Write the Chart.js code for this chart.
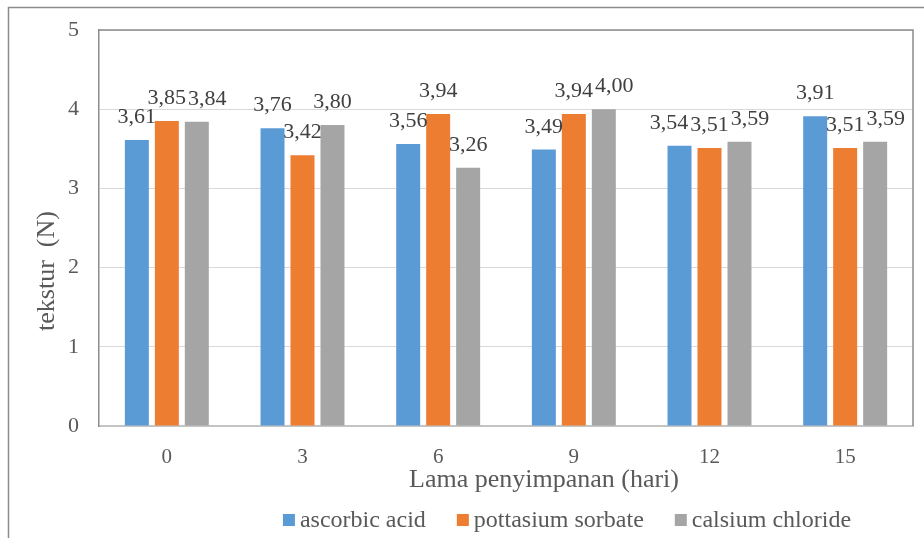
<!DOCTYPE html>
<html>
<head>
<meta charset="utf-8">
<script src="https://cdn.jsdelivr.net/npm/chart.js@4/dist/chart.umd.min.js"></script>
<style>
  html, body { margin: 0; padding: 0; background: #ffffff; }
  #wrap { width: 924px; height: 538px; }
</style>
</head>
<body>
<div id="wrap"><canvas id="c" width="924" height="538"></canvas></div>
<script>
// Storage days (x categories)
const days = ['0', '3', '6', '9', '12', '15'];

// Texture (N) per treatment
const ascorbicAcid      = [3.61, 3.76, 3.56, 3.49, 3.54, 3.91];
const potassiumSorbate  = [3.85, 3.42, 3.94, 3.94, 3.51, 3.51];
const calciumChloride   = [3.84, 3.80, 3.26, 4.00, 3.59, 3.59];

const seriesNames = ['ascorbic acid', 'pottasium sorbate', 'calsium chloride'];
const seriesColors = ['#5B9BD5', '#ED7D31', '#A5A5A5'];

const yTicks = [0, 1, 2, 3, 4, 5];
const xTitle = 'Lama penyimpanan (hari)';
const yTitle = 'tekstur  (N)';

const SERIF = '"Liberation Serif", "Times New Roman", serif';
const fmt = v => v.toFixed(2).replace('.', ',');

// Outer frame and plot-area border
const framePlugin = {
  id: 'frame',
  beforeDraw(chart) {
    const ctx = chart.ctx;
    ctx.save();
    ctx.fillStyle = '#ffffff';
    ctx.fillRect(0, 0, chart.width, chart.height);
    ctx.strokeStyle = '#8c8c8c';
    ctx.lineWidth = 1.5;
    ctx.beginPath();
    ctx.moveTo(8.5, chart.height);
    ctx.lineTo(8.5, 7.5);
    ctx.lineTo(chart.width, 7.5);
    ctx.stroke();
    ctx.restore();
  },
  afterDraw(chart) {
    const a = chart.chartArea, ctx = chart.ctx;
    ctx.save();
    ctx.strokeStyle = '#8c8c8c';
    ctx.lineWidth = 1.5;
    ctx.beginPath();
    ctx.moveTo(a.left, a.top);
    ctx.lineTo(a.right, a.top);
    ctx.lineTo(a.right, a.bottom);
    ctx.stroke();
    ctx.restore();
  }
};

// Value labels above bars; neighbours that collide slide outward from the middle bar
const valueLabels = {
  id: 'valueLabels',
  afterDatasetsDraw(chart) {
    const ctx = chart.ctx;
    ctx.save();
    ctx.font = '22px ' + SERIF;
    ctx.fillStyle = '#404040';
    ctx.textAlign = 'center';
    ctx.textBaseline = 'alphabetic';
    const n = chart.data.labels.length;
    for (let i = 0; i < n; i++) {
      const items = chart.data.datasets.map((ds, j) => {
        const el = chart.getDatasetMeta(j).data[i];
        const text = fmt(ds.data[i]);
        return { text, x: el.x, base: el.y - 17, w: ctx.measureText(text).width };
      });
      const mid = items[1];
      const gap = 2;
      const left = items[0], right = items[2];
      if (Math.abs(left.base - mid.base) < 15 && left.x + left.w / 2 > mid.x - mid.w / 2 - gap) {
        left.x = mid.x - mid.w / 2 - gap - left.w / 2;
      }
      if (Math.abs(right.base - mid.base) < 15 && right.x - right.w / 2 < mid.x + mid.w / 2 + gap) {
        right.x = mid.x + mid.w / 2 + gap + right.w / 2;
      }
      items.forEach(it => ctx.fillText(it.text, it.x, it.base));
    }
    ctx.restore();
  }
};

// Axis titles and legend row
const titlesAndLegend = {
  id: 'titlesAndLegend',
  afterDraw(chart) {
    const ctx = chart.ctx;
    ctx.save();
    ctx.fillStyle = '#595959';
    ctx.textBaseline = 'alphabetic';

    ctx.font = '26px ' + SERIF;
    ctx.textAlign = 'center';
    ctx.fillText(xTitle, 544, 487);

    ctx.save();
    ctx.translate(54, 271);
    ctx.rotate(-Math.PI / 2);
    ctx.fillText(yTitle, 0, 0);
    ctx.restore();

    ctx.font = '24px ' + SERIF;
    ctx.textAlign = 'left';
    const box = 12, boxGap = 5, itemGap = 31;
    const widths = seriesNames.map(s => ctx.measureText(s).width);
    const total = widths.reduce((s, w) => s + w + box + boxGap, 0) + itemGap * (seriesNames.length - 1);
    let x = 567 - total / 2;
    seriesNames.forEach((name, k) => {
      ctx.fillStyle = seriesColors[k];
      ctx.fillRect(x, 514, box, box);
      ctx.fillStyle = '#595959';
      ctx.fillText(name, x + box + boxGap, 527);
      x += box + boxGap + widths[k] + itemGap;
    });
    ctx.restore();
  }
};

const seriesData = [ascorbicAcid, potassiumSorbate, calciumChloride];

function build() {
  new Chart(document.getElementById('c'), {
    type: 'bar',
    data: {
      labels: days,
      datasets: seriesData.map((d, k) => ({
        label: seriesNames[k],
        data: d,
        backgroundColor: seriesColors[k],
        borderWidth: 0,
        categoryPercentage: 0.663,
        barPercentage: 0.8
      }))
    },
    options: {
      responsive: false,
      animation: false,
      devicePixelRatio: 1,
      layout: { padding: { left: 0, top: 30, right: 11, bottom: 0 } },
      plugins: {
        legend: { display: false },
        title: { display: false },
        tooltip: { enabled: false }
      },
      scales: {
        x: {
          grid: { display: false },
          border: { display: true, color: '#c4c4c4', width: 2 },
          ticks: { color: '#595959', font: { family: SERIF, size: 21 }, padding: 11 },
          afterFit(scale) { scale.height = 112; }
        },
        y: {
          min: 0,
          max: 5,
          afterBuildTicks(scale) { scale.ticks = yTicks.map(v => ({ value: v })); },
          grid: { color: '#d9d9d9', lineWidth: 1, drawTicks: false },
          border: { display: true, color: '#8c8c8c', width: 1.5 },
          ticks: { color: '#595959', font: { family: SERIF, size: 22 }, padding: 20 },
          afterFit(scale) {
            scale.width = 99;
            scale.paddingTop = 0;
            scale.paddingBottom = 0;
          }
        }
      }
    },
    plugins: [framePlugin, valueLabels, titlesAndLegend]
  });
}

const fontReady = document.fonts && document.fonts.load
  ? Promise.all([
      document.fonts.load('22px "Liberation Serif"'),
      document.fonts.load('26px "Liberation Serif"')
    ]).catch(() => {})
  : Promise.resolve();
fontReady.then(build);
</script>
</body>
</html>
